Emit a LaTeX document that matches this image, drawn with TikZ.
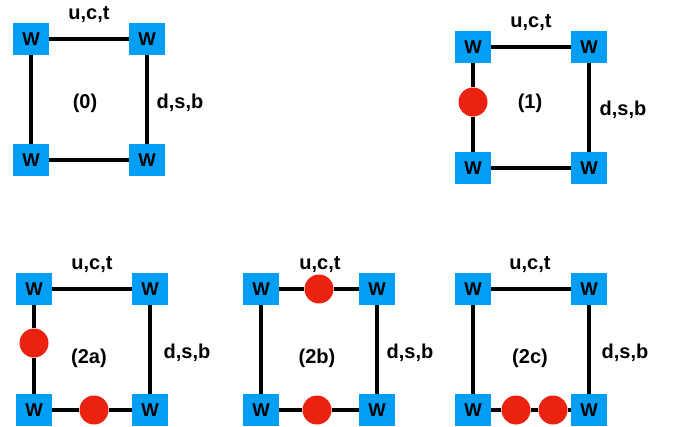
\documentclass[tikz,border=0pt]{standalone}
\usepackage{fontspec}
\setmainfont{Liberation Sans}
\definecolor{wblue}{RGB}{0,158,245}
\definecolor{pred}{RGB}{236,34,17}
\tikzset{
  wbox/.style={fill=wblue, minimum width=36pt, minimum height=32pt, inner sep=0pt, font=\bfseries\fontsize{18.5}{18.5}\selectfont},
  blob/.style={circle, fill=pred, minimum size=29pt, inner sep=0pt},
  lbl/.style={font=\bfseries\fontsize{20}{20}\selectfont, inner sep=0pt},
  prop/.style={line width=4pt},
}
\begin{document}
\begin{tikzpicture}[x=1pt,y=-1pt]
\useasboundingbox (0,0) rectangle (676,426);
% panel 0
\node[wbox] (a1) at (31,39) {W};
\node[wbox] (a2) at (147,39) {W};
\node[wbox] (a3) at (31,160) {W};
\node[wbox] (a4) at (147,160) {W};
\draw[prop] (a1) -- (a2);
\draw[prop] (a2) -- (a4);
\draw[prop] (a4) -- (a3);
\draw[prop] (a3) -- (a1);
\node[lbl] (au) at (89,15) {u,c,t};
\node[lbl] (an) at (85,103) {(0)};
\node[lbl] (ad) at (180,103) {d,s,b};
% panel 1
\node[wbox] (b1) at (473,47) {W};
\node[wbox] (b2) at (589,47) {W};
\node[wbox] (b3) at (473,168) {W};
\node[wbox] (b4) at (589,168) {W};
\node[blob] (br1) at (473,102) {};
\draw[prop] (b1) -- (b2);
\draw[prop] (b2) -- (b4);
\draw[prop] (b4) -- (b3);
\draw[prop] (b3) -- (br1) -- (b1);
\node[lbl] (bu) at (531,23) {u,c,t};
\node[lbl] (bn) at (530,103) {(1)};
\node[lbl] (bd) at (623,110) {d,s,b};
% panel 2a
\node[wbox] (c1) at (34,289) {W};
\node[wbox] (c2) at (150,289) {W};
\node[wbox] (c3) at (34,410) {W};
\node[wbox] (c4) at (150,410) {W};
\node[blob] (cr1) at (34,343) {};
\node[blob] (cr2) at (94,410) {};
\draw[prop] (c1) -- (c2);
\draw[prop] (c2) -- (c4);
\draw[prop] (c4) -- (cr2) -- (c3);
\draw[prop] (c3) -- (cr1) -- (c1);
\node[lbl] (cu) at (92,265) {u,c,t};
\node[lbl] (cn) at (89,358) {(2a)};
\node[lbl] (cd) at (187,353) {d,s,b};
% panel 2b
\node[wbox] (d1) at (261,289) {W};
\node[wbox] (d2) at (377,289) {W};
\node[wbox] (d3) at (261,410) {W};
\node[wbox] (d4) at (377,410) {W};
\node[blob] (dr1) at (319,289) {};
\node[blob] (dr2) at (317,410) {};
\draw[prop] (d1) -- (dr1) -- (d2);
\draw[prop] (d2) -- (d4);
\draw[prop] (d4) -- (dr2) -- (d3);
\draw[prop] (d3) -- (d1);
\node[lbl] (du) at (320,265) {u,c,t};
\node[lbl] (dn) at (317,358) {(2b)};
\node[lbl] (dd) at (410,353) {d,s,b};
% panel 2c
\node[wbox] (e1) at (473,289) {W};
\node[wbox] (e2) at (589,289) {W};
\node[wbox] (e3) at (473,410) {W};
\node[wbox] (e4) at (589,410) {W};
\node[blob] (er1) at (516,410) {};
\node[blob] (er2) at (553,410) {};
\draw[prop] (e1) -- (e2);
\draw[prop] (e2) -- (e4);
\draw[prop] (e4) -- (er2) -- (er1) -- (e3);
\draw[prop] (e3) -- (e1);
\node[lbl] (eu) at (530,265) {u,c,t};
\node[lbl] (en) at (530,358) {(2c)};
\node[lbl] (ed) at (625,353) {d,s,b};
\end{tikzpicture}
\end{document}
